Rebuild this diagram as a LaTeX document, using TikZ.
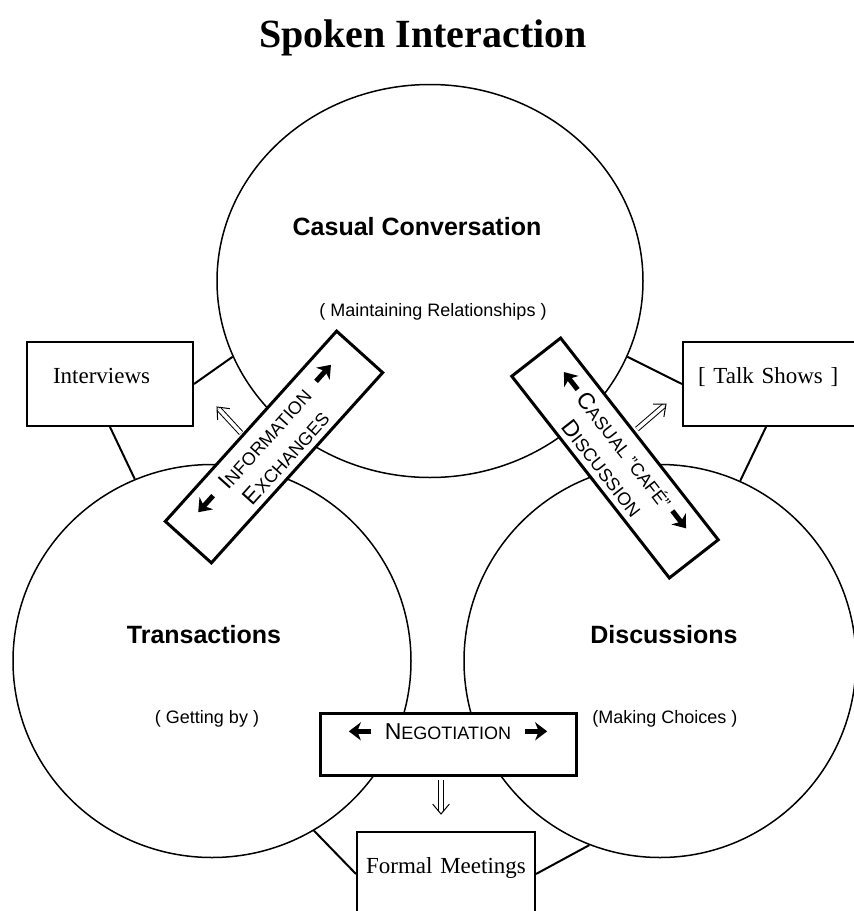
\documentclass[tikz,border=0pt]{standalone}
\usepackage{fontspec}
\setmainfont{Liberation Serif}
\setsansfont{Liberation Sans}
\usetikzlibrary{shapes.geometric,arrows.meta,calc}

\newcommand{\capfirst}[2]{{\fontsize{23}{28.5}\selectfont #1}#2}
\newcommand{\bandstrut}{\rule[-4.5pt]{0pt}{28.5pt}}

\tikzset{
  area/.style={ellipse, draw, line width=1.5pt, inner sep=0pt},
  band/.style={draw, fill=white, line width=3pt, minimum width=256pt, minimum height=62pt,
    inner sep=0pt, align=center, font=\sffamily\fontsize{18}{28.5}\selectfont},
  tvbox/.style={draw, fill=white, line width=2pt, text height=41pt, text depth=43pt,
    inner ysep=0pt, align=left, font=\fontsize{23}{26}\selectfont},
  link/.style={line width=2pt},
  heavy/.style={line width=5pt, -{Stealth[length=12pt,width=18pt,inset=3.5pt]}},
  hollow/.style={double, double distance=3.5pt, line width=1pt},
  chevron/.style={line width=1pt, miter limit=20},
  head/.style={font=\sffamily\bfseries\fontsize{25}{28}\selectfont},
  sub/.style={font=\sffamily\fontsize{18}{20}\selectfont}
}

\begin{document}
\begin{tikzpicture}[x=1pt, y=-1pt]
  \useasboundingbox (0,0) rectangle (854,911);
  \node[font=\bfseries\fontsize{40}{44}\selectfont, anchor=base] (title) at (423,47) {Spoken Interaction};
  % the three areas
  \node[area, minimum width=426pt, minimum height=393pt] (casual) at (430,281) {};
  \node[area, minimum width=398pt, minimum height=393pt] (trans) at (212,661) {};
  \node[area, minimum width=392pt, minimum height=393pt] (disc) at (660,661) {};
  \node[head, anchor=base] (casualhd) at (417,235) {Casual Conversation};
  \node[sub, anchor=base] (casualsub) at (433,316) {( Maintaining Relationships )};
  \node[head, anchor=base] (transhd) at (204,643) {Transactions};
  \node[sub, anchor=base] (transsub) at (207,723) {( Getting by )};
  \node[head, anchor=base] (dischd) at (664,643) {Discussions};
  \node[sub, anchor=base] (discsub) at (665,723) {(Making Choices )};
  % overlaps
  \node[band, rotate=48] (info) at (274,447) {\bandstrut\capfirst{I}{NFORMATION}\\\bandstrut\capfirst{E}{XCHANGES}};
  \node[band, rotate=-52] (cafe) at (615,458) {\bandstrut\capfirst{C}{ASUAL} "CAFÉ"\\\bandstrut\capfirst{D}{ISCUSSION}};
  \node[band] (nego) at (448,744) {\bandstrut\capfirst{N}{EGOTIATION}\\\bandstrut};
  \foreach \b in {info, cafe, nego} {
    \coordinate (\b-a) at ($(\b.west)!0.39!(\b.north west)$);
    \coordinate (\b-b) at ($(\b.east)!0.39!(\b.north east)$);
    \draw[heavy] ($(\b-a)!0.203!(\b-b)$) -- ($(\b-a)!0.117!(\b-b)$);
    \draw[heavy] ($(\b-a)!0.797!(\b-b)$) -- ($(\b-a)!0.883!(\b-b)$);
  }
  % genres
  \node[tvbox, text width=114pt, inner xsep=26pt, anchor=west] (interviews) at (26,384) {Interviews};
  \node[tvbox, text width=150pt, inner xsep=15pt, anchor=west] (talk) at (682,384) {[ Talk Shows ]};
  \node[tvbox, text width=174pt, inner xsep=2pt, align=center, anchor=north] (formal) at (446,831) {Formal Meetings};
  \draw[link] (interviews.east) -- (casual.201);
  \draw[link] (interviews.south) -- (trans.113);
  \draw[link] (talk.west) -- (casual.-21);
  \draw[link] ([xshift=-7pt]talk.south) -- (disc.66);
  \draw[link] (trans.-59) -- (formal.west);
  \draw[link] (disc.-111) -- (formal.east);
  \coordinate (upL0) at (241,433); \coordinate (upL1) at (217,407);
  \coordinate (upR0) at (637,429); \coordinate (upR1) at (666,404);
  \coordinate (dn0) at (441,780); \coordinate (dn1) at (441,814);
  \foreach \s/\t in {upL0/upL1, upR0/upR1, dn0/dn1} {
    \draw[hollow] (\s) -- ($(\t)!2.7pt!(\s)$);
    \draw[chevron] ($(\t)!13pt!40:(\s)$) -- (\t) -- ($(\t)!13pt!-40:(\s)$);
  }
\end{tikzpicture}
\end{document}
